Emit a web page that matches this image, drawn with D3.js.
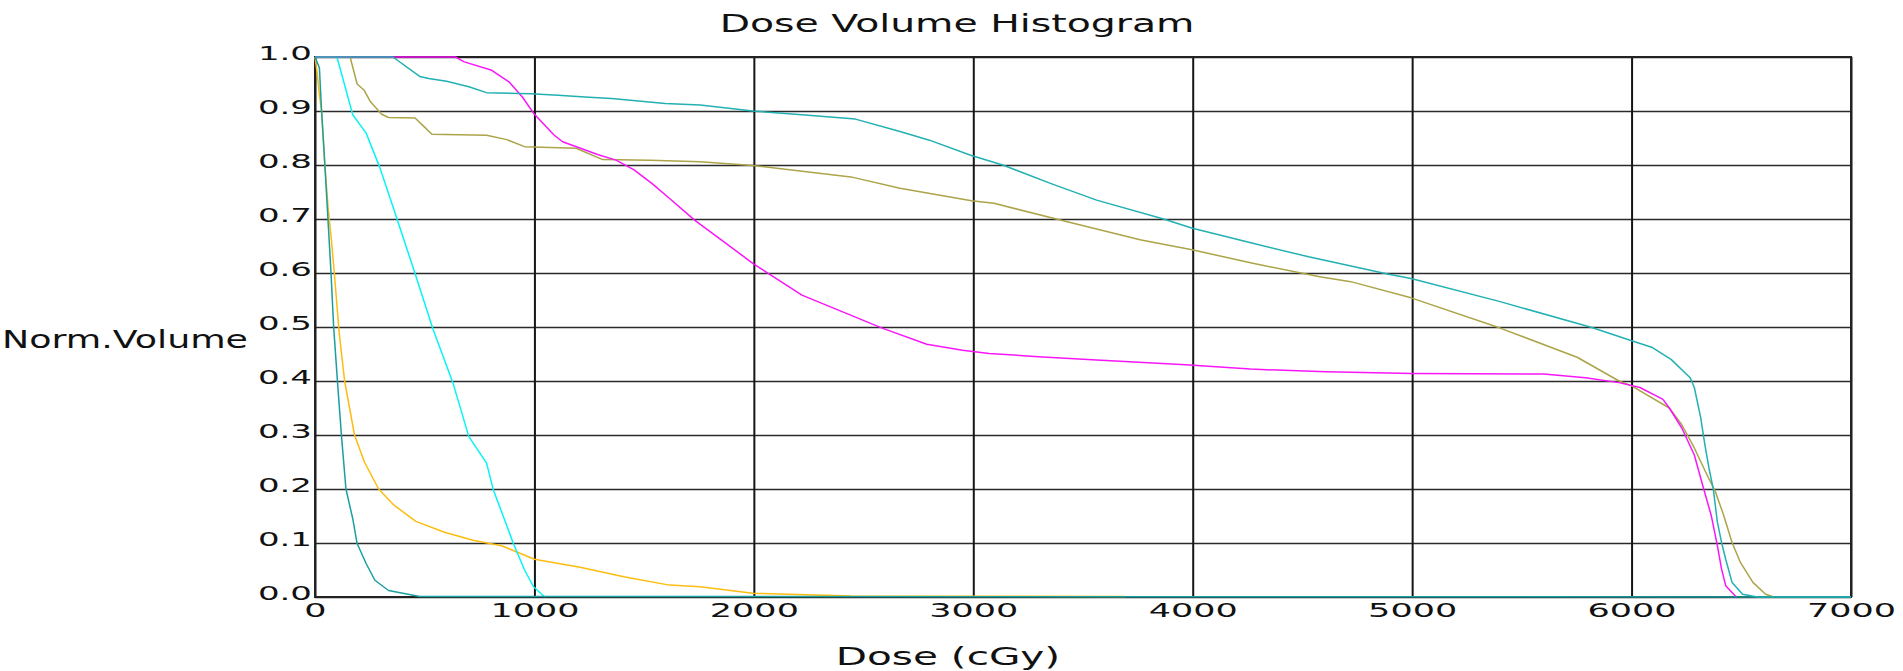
<!DOCTYPE html>
<html>
<head>
<meta charset="utf-8">
<script src="https://cdn.jsdelivr.net/npm/d3@7"></script>
<style>
  body { margin: 0; background: #fff; }
  svg text { font-family: "DejaVu Sans", sans-serif; fill: #111; }
</style>
</head>
<body>
<div id="chart"></div>
<script>
// ticks
const doseTicks = [0, 1000, 2000, 3000, 4000, 5000, 6000, 7000];
const volTicks = [0, 0.1, 0.2, 0.3, 0.4, 0.5, 0.6, 0.7, 0.8, 0.9, 1.0];

// curves (dose in cGy, normalized volume)
const orangeDose = [0, 10, 20, 30, 45, 60, 75, 88, 98, 110, 135, 180, 225, 290, 360, 460, 590, 720, 850, 1000, 1208, 1413, 1616, 1755, 1995, 2442, 3693];
const orangeVol = [1.0, 0.97, 0.93, 0.9, 0.8, 0.72, 0.66, 0.6, 0.55, 0.49, 0.4, 0.3, 0.25, 0.2, 0.17, 0.14, 0.12, 0.105, 0.095, 0.07, 0.055, 0.037, 0.022, 0.019, 0.007, 0.002, 0.001];

const cyanDose = [0, 100, 172, 233, 294, 355, 456, 538, 629, 701, 782, 813, 864, 904, 955, 996, 1047];
const cyanVol = [1.0, 1.0, 0.893, 0.859, 0.797, 0.723, 0.599, 0.496, 0.396, 0.297, 0.248, 0.198, 0.143, 0.099, 0.05, 0.019, 0];

const oliveDose = [0, 160, 192, 223, 253, 304, 335, 456, 497, 533, 782, 874, 955, 1190, 1311, 1527, 1755, 1995, 2442, 2666, 2992, 3094, 3419, 3765, 3997, 4274, 4579, 4720, 4995, 5401, 5752, 5943, 6000, 6172, 6229, 6286, 6344, 6382, 6420, 6458, 6496, 6553, 6611, 6649];
const oliveVol = [1.0, 1.0, 0.95, 0.939, 0.917, 0.894, 0.888, 0.887, 0.871, 0.857, 0.855, 0.847, 0.834, 0.831, 0.81, 0.809, 0.806, 0.799, 0.778, 0.757, 0.734, 0.729, 0.696, 0.661, 0.643, 0.618, 0.593, 0.584, 0.554, 0.498, 0.444, 0.4, 0.391, 0.35, 0.319, 0.276, 0.226, 0.195, 0.151, 0.101, 0.064, 0.027, 0.005, 0];

const magentaDose = [0, 640, 680, 802, 884, 945, 996, 1088, 1128, 1210, 1291, 1372, 1454, 1535, 1616, 1730, 1995, 2219, 2585, 2788, 2951, 3072, 3297, 3562, 3968, 4263, 4607, 5000, 5599, 5790, 5943, 6038, 6143, 6172, 6229, 6286, 6324, 6363, 6391, 6410, 6429, 6477];
const magentaVol = [1.0, 1.0, 0.991, 0.976, 0.954, 0.926, 0.896, 0.856, 0.843, 0.831, 0.819, 0.809, 0.791, 0.766, 0.738, 0.698, 0.618, 0.559, 0.498, 0.468, 0.457, 0.451, 0.445, 0.439, 0.43, 0.422, 0.417, 0.414, 0.413, 0.406, 0.397, 0.388, 0.366, 0.35, 0.313, 0.263, 0.207, 0.151, 0.095, 0.052, 0.021, 0];

const darkTealDose = [0, 20, 30, 45, 59, 73, 85, 104, 121, 141, 172, 192, 233, 273, 335, 436, 477, 772, 7000];
const darkTealVol = [1.0, 0.98, 0.9, 0.8, 0.7, 0.6, 0.5, 0.39, 0.297, 0.2, 0.145, 0.099, 0.062, 0.031, 0.012, 0.004, 0.001, 0.001, 0];

const tealDose = [0, 355, 477, 518, 600, 701, 782, 984, 1108, 1230, 1352, 1596, 1755, 1995, 2219, 2463, 2666, 2800, 2988, 3134, 3358, 3562, 3867, 3999, 4274, 4528, 4888, 4995, 5401, 5819, 5990, 6095, 6180, 6267, 6286, 6315, 6334, 6353, 6372, 6391, 6410, 6429, 6458, 6506, 6573, 7000];
const tealVol = [1.0, 1.0, 0.964, 0.96, 0.955, 0.945, 0.934, 0.932, 0.929, 0.926, 0.923, 0.914, 0.911, 0.9, 0.893, 0.885, 0.862, 0.846, 0.818, 0.8, 0.765, 0.735, 0.7, 0.683, 0.655, 0.63, 0.598, 0.59, 0.547, 0.499, 0.476, 0.462, 0.44, 0.406, 0.388, 0.332, 0.282, 0.238, 0.201, 0.139, 0.101, 0.07, 0.027, 0.005, 0, 0];

const series = [
  { dose: orangeDose, vol: orangeVol, color: "#fcbc10" },
  { dose: cyanDose, vol: cyanVol, color: "#08f4f4" },
  { dose: oliveDose, vol: oliveVol, color: "#aca448" },
  { dose: magentaDose, vol: magentaVol, color: "#f816f8" },
  { dose: darkTealDose, vol: darkTealVol, color: "#1a9fa0" },
  { dose: tealDose, vol: tealVol, color: "#22b0b2" }
];

const width = 1903, height = 671;
const plotLeft = 315, plotRight = 1851, plotTop = 57, plotBottom = 597;

const svg = d3.select("#chart").append("svg")
  .attr("width", width).attr("height", height);

const x = d3.scaleLinear().domain([0, 7000]).range([plotLeft, plotRight]);
const y = d3.scaleLinear().domain([0, 1]).range([plotBottom, plotTop]);

// the original font is a wide bitmap face, so stretch glyphs horizontally
function stretch(sel, k) {
  sel.each(function() {
    const w = this.getComputedTextLength();
    d3.select(this).attr("textLength", w * k).attr("lengthAdjust", "spacingAndGlyphs");
  });
}

// horizontal grid + y labels
const yAxis = svg.append("g")
  .attr("transform", `translate(${plotLeft},0)`)
  .call(d3.axisLeft(y).tickValues(volTicks).tickFormat(d3.format(".1f"))
    .tickSize(-(plotRight - plotLeft)).tickPadding(3));
yAxis.select(".domain").remove();
yAxis.selectAll(".tick line").attr("stroke", "#2a2a2a").attr("stroke-width", 1.6);
yAxis.selectAll(".tick text")
  .attr("font-size", 20).attr("dy", "0.1em").attr("fill", "#111");
stretch(yAxis.selectAll(".tick text"), 1.7);

// vertical grid + x labels
const xAxis = svg.append("g")
  .attr("transform", `translate(0,${plotBottom})`)
  .call(d3.axisBottom(x).tickValues(doseTicks).tickFormat(d3.format("d"))
    .tickSize(-(plotBottom - plotTop)).tickPadding(5));
xAxis.select(".domain").remove();
xAxis.selectAll(".tick line").attr("stroke", "#151515").attr("stroke-width", 2);
xAxis.selectAll(".tick text")
  .attr("font-size", 20).attr("y", 20).attr("dy", 0).attr("fill", "#111");
stretch(xAxis.selectAll(".tick text"), 1.75);

// plot frame
svg.append("rect")
  .attr("x", plotLeft).attr("y", plotTop)
  .attr("width", plotRight - plotLeft).attr("height", plotBottom - plotTop)
  .attr("fill", "none").attr("stroke", "#222").attr("stroke-width", 2);

// curves
const line = d3.line()
  .x(d => x(d[0]))
  .y(d => y(d[1]));

svg.append("g").selectAll("path")
  .data(series)
  .join("path")
  .attr("d", s => line(s.dose.map((d, i) => [d, s.vol[i]])))
  .attr("fill", "none")
  .attr("stroke", s => s.color)
  .attr("stroke-width", 1.5)
  .attr("stroke-linejoin", "round");

// titles
const title = svg.append("text")
  .attr("x", 957).attr("y", 32)
  .attr("text-anchor", "middle").attr("font-size", 24)
  .text("Dose Volume Histogram");
stretch(title, 1.64);

const xTitle = svg.append("text")
  .attr("x", 948).attr("y", 665)
  .attr("text-anchor", "middle").attr("font-size", 24)
  .text("Dose (cGy)");
stretch(xTitle, 1.69);

// fit the y title between the page edge and the tick labels
const yTitle = svg.append("text")
  .attr("x", 2).attr("y", 348)
  .attr("font-size", 24)
  .attr("textLength", 246).attr("lengthAdjust", "spacingAndGlyphs")
  .text("Norm.Volume");
</script>
</body>
</html>
